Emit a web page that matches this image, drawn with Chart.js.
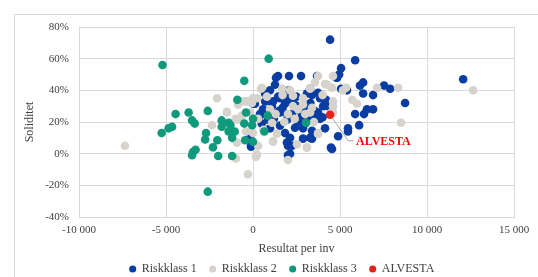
<!DOCTYPE html>
<html>
<head>
<meta charset="utf-8">
<script src="https://cdn.jsdelivr.net/npm/chart.js@4/dist/chart.umd.min.js"></script>
<style>
  html, body { margin: 0; padding: 0; background: #fff; }
  #wrap { position: relative; width: 538px; height: 277px; overflow: hidden; }
  #frame { position: absolute; left: 14px; top: 14px; right: 0; bottom: 0; border-top: 1px solid #d9d9d9; border-left: 1px solid #d9d9d9; pointer-events: none; }
</style>
</head>
<body>
<div id="wrap">
  <canvas id="chart" width="538" height="277"></canvas>
  <div id="frame"></div>
</div>
<script>
// series names
const seriesNames = ['Riskklass 1', 'Riskklass 2', 'Riskklass 3', 'ALVESTA'];

// [Resultat per inv, Soliditet %]
const riskklass1 = [
  [4430,72],[5870,59],[5060,54],[4950,50],[4800,48],[6330,45],[6150,43],[7530,43],[7880,41],[5060,41],
  [5400,40],[6330,38],[6900,37],[8740,32],[6550,28],[6900,28],[6380,25],[5870,25],[6100,18],[5460,16],
  [5460,14],[4890,11],[4540,3],[2070,49],[2760,49],[1320,48],[1440,49],[12080,47],
  [115,31.5],[690,38],[980,40],[1550,35],[2070,40],[3280,41],[3390,37],[3740,38.5],[3850,35],[2300,33],
  [2530,30],[1840,31.5],[1150,33],[400,25],[1960,25],[2820,26],[3560,27],[4030,30],[4000,23],[3280,22],
  [1265,43.5],[1440,36],[1960,34],[1500,27],[575,28],[1090,30],[1550,26],[860,21.5],[1960,21.5],[1550,17.7],
  [980,16],[400,24],[-170,10],[-115,5],[1950,7],[1840,13],[2010,-1],
  [3680,49],[4830,48],[3100,38],[2010,35],[2300,32],[2990,30],[3740,26],[4310,30],[2240,25],[2820,24],
  [3560,24],[3850,22],[2415,16.4],[2875,16],[3390,14.5],[4140,16],[2130,10],[2875,9.5],[3280,10],[4480,3.8],
  [2010,5],[2130,0],[2240,5],[3390,9.5],[-115,4.4],[0,31.5],
  [2600,20],[1200,22],[3000,19],[700,33],[1700,29],[2500,36],[3300,32],[4200,34],[2700,27],[500,19]
];
const riskklass2 = [
  [-7360,5],[-290,-13],[-980,-3],[170,-2],[-2070,35],[-1500,26],[-2360,18],[-700,33],[-300,33],[0,35],
  [3740,49],[3560,45],[4600,49],[4260,43.5],[520,41.6],[1670,41],[1700,37],[2300,36.6],[2875,35],[2875,31],
  [980,28],[230,35],[-60,32],[3000,25],[4600,33],[3390,29],[1300,25],[4600,26],
  [460,41],[-460,33],[-860,31],[-1500,26.5],[-630,24],[-170,26],[290,22],[-1320,19],[-860,21.5],[1090,19.5],
  [1380,12.6],[0,13],[-920,7],[290,5],[1150,8],[230,-0.6],
  [5350,41.6],[7130,41.6],[8340,41.6],[5700,34],[5980,31.5],[4600,30],[8510,19.5],[4500,26],
  [4140,44],[4540,41.6],[2130,40],[3280,41],[2590,28],[2300,30],[3280,26],[2010,25],[3740,13],[2530,6],
  [3100,3.8],[5170,40],[2010,-4],[1150,7.5],[3100,4],[12650,40],[3740,12.5],
  [-1000,22],[600,15],[1800,20],[2400,22],[3500,20],[-400,14],[800,36],[4000,37]
];
const riskklass3 = [
  [-5200,56],[-5250,13],[-4850,16],[-4450,25],[-4650,17],[-3700,26],[-3500,21],[-3350,19],[-2600,27],[-1800,21],
  [-1800,17],[-1300,18],[-500,19],[-50,18],[-400,26],[0,22],[-900,34],[-500,46],[900,60],[-1400,14],
  [-1050,14],[-1200,10],[-2700,13],[-2750,9],[-2050,8.5],[-2300,4],[-3300,2.5],[-3450,1],[-3500,-1],[-2000,-1.5],
  [-1200,-1.5],[-450,8.5],[0,7.5],[-2600,-24],[850,24],[650,14],[3050,19.5],[-1400,19.5]
];
const alvesta = [[4430,24.6]];

const xTicks = [-10000, -5000, 0, 5000, 10000, 15000];
const yTicks = [-40, -20, 0, 20, 40, 60, 80];

const colors = ['#0a3da2', '#d6d2cc', '#0f9a7c', '#e8201c'];

const toPts = arr => arr.map(p => ({ x: p[0], y: p[1] }));
const fmtThousands = v => {
  const s = Math.abs(v).toString().replace(/\B(?=(\d{3})+(?!\d))/g, ' ');
  return (v < 0 ? '-' : '') + s;
};

const serif = "'Liberation Serif', 'DejaVu Serif', serif";
const textColor = '#404040';

// callout for ALVESTA
const alvestaLabel = {
  id: 'alvestaLabel',
  afterDatasetsDraw(chart) {
    const pt = chart.getDatasetMeta(3).data[0];
    if (!pt) return;
    const c = chart.ctx;
    c.save();
    c.strokeStyle = '#a6a6a6';
    c.lineWidth = 1;
    c.beginPath();
    c.moveTo(pt.x + 2, pt.y + 3);
    c.lineTo(pt.x + 18, pt.y + 26);
    c.lineTo(pt.x + 23, pt.y + 26);
    c.stroke();
    c.fillStyle = '#ff0000';
    c.font = "bold 12px " + serif;
    c.textBaseline = 'middle';
    c.fillText('ALVESTA', pt.x + 26, pt.y + 27);
    c.restore();
  }
};

// nudge the legend a bit to the right, like the original
const legendShift = {
  id: 'legendShift',
  afterLayout(chart) {
    const lg = chart.legend;
    if (!lg) return;
    lg.left += 18;
    lg.right += 18;
  }
};

const ds = [riskklass1, riskklass2, riskklass3, alvesta].map((d, i) => ({
  label: seriesNames[i],
  data: toPts(d),
  backgroundColor: colors[i],
  borderColor: colors[i],
  borderWidth: 0,
  pointRadius: 4.3,
  pointHoverRadius: 4.3,
  order: 3 - i
}));

new Chart(document.getElementById('chart'), {
  type: 'scatter',
  data: { datasets: ds },
  options: {
    responsive: false,
    animation: false,
    layout: { padding: { left: 14, top: 27, right: 24, bottom: -8 } },
    scales: {
      x: {
        type: 'linear',
        min: -10000, max: 15000,
        afterBuildTicks: s => { s.ticks = xTicks.map(v => ({ value: v })); },
        afterFit: s => { s.height = 33; },
        grid: { color: '#d9d9d9', drawTicks: false },
        border: { color: '#d9d9d9' },
        ticks: {
          padding: 7, maxRotation: 0, color: textColor,
          font: { family: serif, size: 11 },
          callback: v => fmtThousands(v)
        },
        title: { display: true, text: 'Resultat per inv', color: textColor, font: { family: serif, size: 12 }, padding: { top: 0, bottom: -6 } }
      },
      y: {
        min: -40, max: 80,
        afterBuildTicks: s => { s.ticks = yTicks.map(v => ({ value: v })); },
        afterFit: s => { s.width = 65; },
        grid: { color: '#d9d9d9', drawTicks: false },
        border: { color: '#d9d9d9' },
        ticks: {
          padding: 10, color: textColor,
          font: { family: serif, size: 11 },
          callback: v => v + '%'
        },
        title: { display: true, text: 'Soliditet', color: textColor, font: { family: serif, size: 12 }, padding: { top: 9, bottom: 0 } }
      }
    },
    plugins: {
      legend: {
        position: 'bottom',
        labels: {
          usePointStyle: true,
          boxWidth: 6, boxHeight: 5,
          padding: 13,
          color: textColor,
          font: { family: serif, size: 12 },
          sort: (a, b) => a.datasetIndex - b.datasetIndex
        }
      },
      tooltip: { enabled: false }
    }
  },
  plugins: [alvestaLabel, legendShift]
});
</script>
</body>
</html>
